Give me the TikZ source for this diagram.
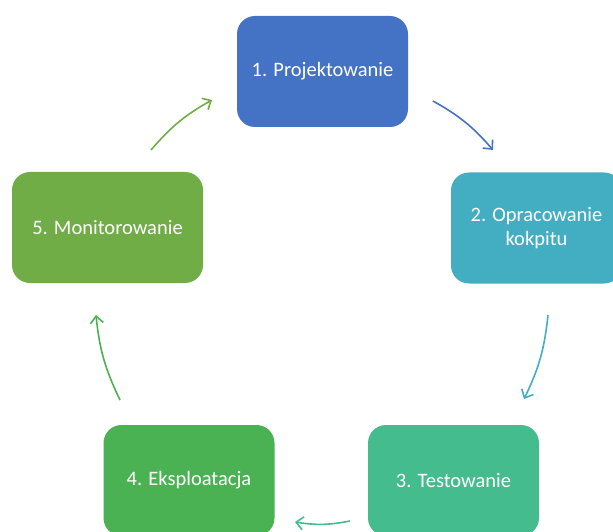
\documentclass[tikz,border=0pt]{standalone}
\usepackage{fontspec}
\setmainfont{Carlito}
\usetikzlibrary{arrows.meta}
\definecolor{stA}{HTML}{4472C4}
\definecolor{stB}{HTML}{43AEC2}
\definecolor{stC}{HTML}{45BC8D}
\definecolor{stD}{HTML}{4BB254}
\definecolor{stE}{HTML}{70AD47}

\begin{document}
\begin{tikzpicture}[x=1pt,y=1pt,
  stage/.style={fill=#1,rounded corners=18pt,minimum width=171pt,minimum height=111pt,
    inner sep=0pt,text=white,align=center,font=\fontsize{20.5}{24}\selectfont},
  cyc/.style={draw=#1,line width=1.6pt,-{Straight Barb[length=7pt,width=13pt]}}]
\clip (0,0) rectangle (613,531);

% stages
\node[stage=stA] (proj) at (322.5,459.5) {1. Projektowanie};
\node[stage=stB] (kokp) at (536.5,303) {2. Opracowanie\\kokpitu};
\node[stage=stC] (test) at (453.5,50.5) {3. Testowanie};
\node[stage=stD] (eksp) at (189,50.5) {4. Eksploatacja};
\node[stage=stE,minimum width=191pt] (moni) at (107.5,303.5) {5. Monitorowanie};

% arrow ends
\coordinate (ab) at (433,430);  \coordinate (ae) at (493,381);
\coordinate (bb) at (548,216);  \coordinate (be) at (524,132);
\coordinate (cb) at (350,10);   \coordinate (ce) at (295,9);
\coordinate (db) at (120,131);  \coordinate (de) at (96,216);
\coordinate (eb) at (151,381);  \coordinate (ee) at (212,431);

\draw[cyc=stA] (ab) to[bend left=10] (ae);
\draw[cyc=stB] (bb) to[bend left=10] (be);
\draw[cyc=stC] (cb) to[bend left=10] (ce);
\draw[cyc=stD] (db) to[bend left=10] (de);
\draw[cyc=stE] (eb) to[bend left=10] (ee);
\end{tikzpicture}
\end{document}
